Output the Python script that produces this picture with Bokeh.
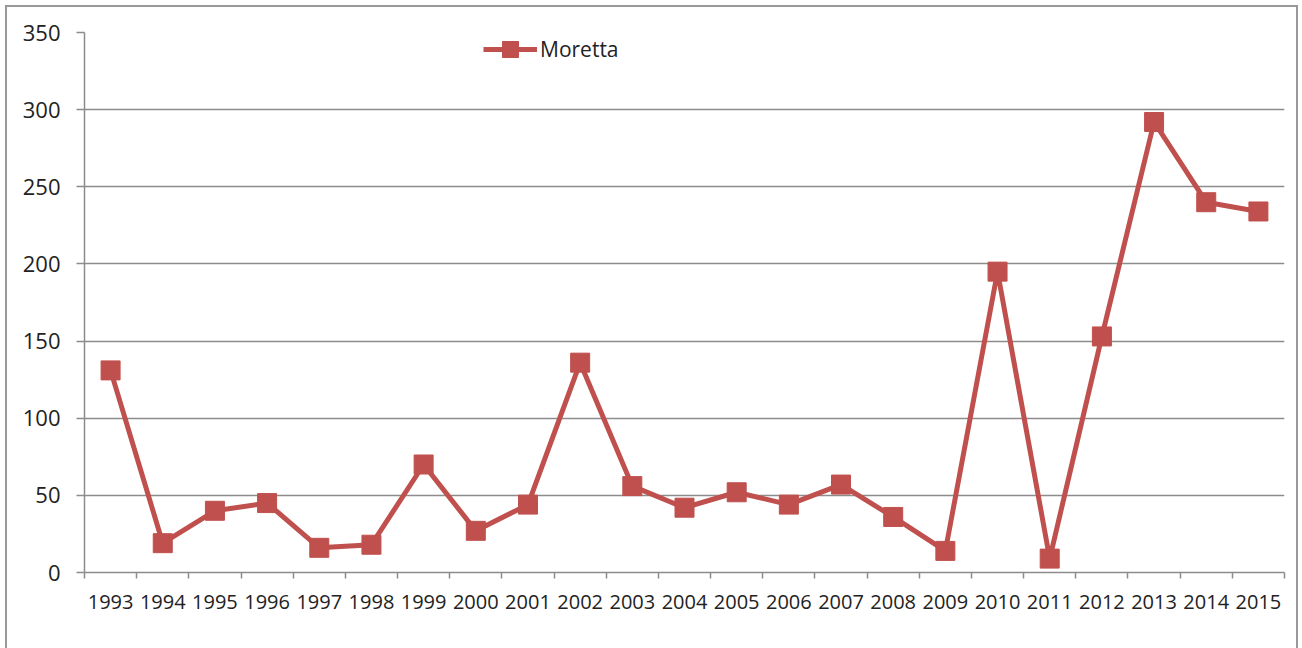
from bokeh.plotting import figure
from bokeh.models import Range1d, Legend, LegendItem, LinearAxis, FixedTicker
from bokeh.embed import file_html
from bokeh.resources import INLINE

years = [str(y) for y in range(1993, 2016)]
moretta = [131, 19, 40, 45, 16, 18, 70, 27, 44, 136, 56, 42, 52, 44, 57, 36, 14, 195, 9, 153, 292, 240, 234]
y_ticks = [0, 50, 100, 150, 200, 250, 300, 350]

# category slots: each year occupies one unit, its point sits at the slot centre
xpos = [i + 0.5 for i in range(len(years))]
boundary_ticks = list(range(0, len(years) + 1))

FONT = "Open Sans"
GRID = "#8c8c8c"
RED = "#C0504D"

p = figure(width=1293, height=643, x_range=Range1d(0, len(years)),
           y_range=Range1d(0, 350), output_backend="svg", toolbar_location=None,
           x_axis_location=None,
           min_border_left=77, min_border_right=16, min_border_top=25, min_border_bottom=78)
p.styles = {"border-left": "2px solid #999999", "border-top": "2px solid #999999",
            "border-right": "2px solid #999999", "box-sizing": "border-box",
            "margin-left": "5px", "margin-top": "5px"}
p.outline_line_color = None
p.background_fill_color = "white"
p.border_fill_color = "white"

ln = p.line(xpos, moretta, line_color=RED, line_width=5)
sc = p.scatter(xpos, moretta, marker="square", size=19, fill_color=RED, line_color=RED)

p.yaxis.ticker = y_ticks
p.yaxis.axis_line_color = GRID
p.yaxis.axis_line_width = 1.5
p.yaxis.major_tick_line_color = GRID
p.yaxis.major_tick_line_width = 1.5
p.yaxis.major_tick_out = 8
p.yaxis.major_tick_in = 0
p.yaxis.minor_tick_line_color = None
p.yaxis.major_label_text_font = FONT
p.yaxis.major_label_text_font_size = "22px"
p.yaxis.major_label_text_color = "#222222"
p.yaxis.major_label_standoff = 16

tick_axis = LinearAxis(ticker=FixedTicker(ticks=boundary_ticks),
                       axis_line_color=GRID, axis_line_width=1.5,
                       major_tick_line_color=GRID, major_tick_line_width=1.5,
                       major_tick_out=6, major_tick_in=0, minor_tick_line_color=None,
                       major_label_overrides={t: "" for t in boundary_ticks},
                       major_label_text_font_size="1px", major_label_standoff=0)
p.add_layout(tick_axis, "below")

label_axis = LinearAxis(ticker=FixedTicker(ticks=xpos),
                        axis_line_color=None, major_tick_line_color=None,
                        minor_tick_line_color=None,
                        major_label_overrides={x: y for x, y in zip(xpos, years)},
                        major_label_text_font=FONT, major_label_text_font_size="20px",
                        major_label_text_color="#222222", major_label_standoff=10)
p.add_layout(label_axis, "below")

p.xgrid.grid_line_color = None
p.ygrid.grid_line_color = GRID
p.ygrid.grid_line_width = 1.5

legend = Legend(items=[LegendItem(label="Moretta", renderers=[ln, sc])],
                location=(399, 503), padding=0, margin=0, glyph_width=54,
                glyph_height=40, label_text_font=FONT, label_text_font_size="21px",
                label_text_color="#222222", label_standoff=3,
                border_line_color=None, background_fill_alpha=0)
p.add_layout(legend, "center")

open("out.html", "w").write(file_html(p, INLINE))
